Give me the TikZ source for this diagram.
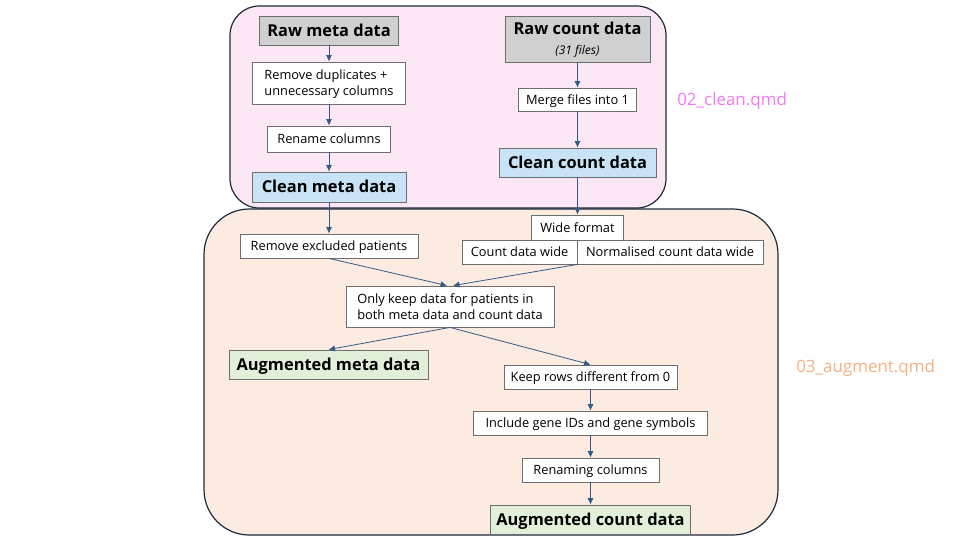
\documentclass[tikz,border=0pt]{standalone}
\usepackage{fontspec}
\setmainfont{Open Sans}
\usepackage{tikz}
\usetikzlibrary{
  arrows.meta,
  positioning
}
\definecolor{flowPink}{RGB}{252,232,244}
\definecolor{flowPeach}{RGB}{251,235,224}
\definecolor{flowNavy}{RGB}{30,42,60}
\definecolor{flowGray}{RGB}{208,208,208}
\definecolor{flowBlue}{RGB}{199,227,245}
\definecolor{flowGreen}{RGB}{226,240,217}
\definecolor{flowEdge}{RGB}{110,110,110}
\definecolor{flowArrowBlue}{RGB}{50,92,135}
\definecolor{flowMagenta}{RGB}{240,120,240}
\definecolor{flowOrange}{RGB}{244,176,132}
\tikzset{
  stageBox/.style={
    draw=flowNavy,
    line width=0.9pt
  },
  stepNode/.style={
    rectangle,
    draw=flowEdge,
    fill=white,
    line width=0.6pt,
    inner sep=2pt,
    minimum height=18pt,
    align=center,
    text depth=0.5pt,
    font=\fontsize{9.6}{12}\selectfont
  },
  rawNode/.style={
    stepNode,
    fill=flowGray,
    minimum height=21.75pt,
    font=\bfseries\fontsize{12.3}{13}\selectfont
  },
  cleanNode/.style={
    rawNode,
    fill=flowBlue
  },
  augNode/.style={
    rawNode,
    fill=flowGreen
  },
  stageLabel/.style={
    anchor=west,
    inner sep=0pt,
    font=\fontsize{12.7}{14}\selectfont
  },
  flowArrow/.style={
    -{Latex[length=1.7mm,width=1.6mm]},
    line width=0.6pt,
    draw=flowArrowBlue
  }
}

\begin{document}
\begin{tikzpicture}[x=0.75pt, y=-0.75pt]
  \useasboundingbox (0,0) rectangle (960,540);

  % script regions
  \draw[stageBox, fill=flowPink, rounded corners=22pt]
    (230,6) rectangle (666,208);
  \draw[stageBox, fill=flowPeach, rounded corners=34pt]
    (204,209) rectangle (778,535);
  \node[stageLabel, text=flowMagenta] (cleanlbl) at (677,101) {02\_clean.qmd};
  \node[stageLabel, text=flowOrange] (auglbl) at (796,368) {03\_augment.qmd};

  % meta data branch
  \node[rawNode, minimum width=104.25pt] (rawmeta) at (329,30.5) {Raw meta data};
  \node[stepNode, minimum width=114.75pt, minimum height=31.5pt, align=left]
    (dedup) at (329,83) {Remove duplicates +\\unnecessary columns};
  \node[stepNode, minimum width=92.25pt, minimum height=19.5pt]
    (rename) at (329,139) {Rename columns};
  \node[cleanNode, minimum width=115.5pt, minimum height=22.5pt]
    (cleanmeta) at (329,187) {Clean meta data};

  % count data branch
  \node[rawNode, minimum width=108.75pt, minimum height=34.5pt]
    (rawcount) at (577.5,39) {Raw count data\\[2pt]{\normalfont\itshape\fontsize{9}{10}\selectfont (31 files)}};
  \node[stepNode, minimum width=88.5pt, minimum height=17.25pt]
    (merge) at (577.5,99.5) {Merge files into 1};
  \node[cleanNode, minimum width=117.75pt]
    (cleancount) at (577.5,162.5) {Clean count data};

  % augment steps
  \node[stepNode, minimum width=133.5pt] (exclude) at (329,246) {Remove excluded patients};
  \node[stepNode, minimum width=69pt, minimum height=18.75pt]
    (wide) at (577.5,227.5) {Wide format};
  \node[stepNode, minimum width=86.25pt, anchor=east]
    (countwide) at (577.5,252) {Count data wide};
  \node[stepNode, minimum width=139.5pt, anchor=west, xshift=-0.6pt]
    (normwide) at (577.5,252) {Normalised count data wide};
  \coordinate (widejoin) at (countwide.south east);
  \node[stepNode, minimum width=156pt, minimum height=30.75pt, align=left]
    (overlap) at (450,306.5) {Only keep data for patients in\\both meta data and count data};
  \node[augNode, minimum width=149.25pt] (augmeta) at (328.5,364.5) {Augmented meta data};
  \node[stepNode, minimum width=129.75pt] (nonzero) at (590.5,377) {Keep rows different from 0};
  \node[stepNode, minimum width=175.5pt] (geneids) at (590.5,423) {Include gene IDs and gene symbols};
  \node[stepNode, minimum width=102.75pt] (renaming) at (590.5,470) {Renaming columns};
  \node[augNode, minimum width=150pt] (augcount) at (590.5,519.5) {Augmented count data};

  \draw[flowArrow] (rawmeta) -- (dedup);
  \draw[flowArrow] (dedup) -- (rename);
  \draw[flowArrow] (rename) -- (cleanmeta);
  \draw[flowArrow] (cleanmeta) -- (exclude);
  \draw[flowArrow] (rawcount) -- (merge);
  \draw[flowArrow] (merge) -- (cleancount);
  \draw[flowArrow] (cleancount) -- (wide);
  \draw[flowArrow] (exclude.south) -- ([xshift=-2.25pt]overlap.north);
  \draw[flowArrow] (widejoin) -- ([xshift=2.25pt]overlap.north);
  \draw[flowArrow] (overlap.south) -- (augmeta.north);
  \draw[flowArrow] (overlap.south) -- (nonzero.north);
  \draw[flowArrow] (nonzero) -- (geneids);
  \draw[flowArrow] (geneids) -- (renaming);
  \draw[flowArrow] (renaming) -- (augcount);
\end{tikzpicture}
\end{document}
